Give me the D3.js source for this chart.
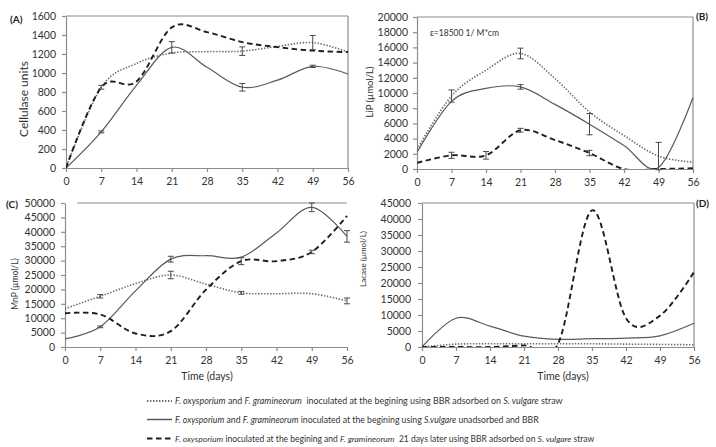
<!DOCTYPE html>
<html><head><meta charset="utf-8">
<script src="https://cdn.jsdelivr.net/npm/d3@7"></script>
<style>body{margin:0;background:#fff}text{font-family:Lato,'Liberation Sans',sans-serif}</style>
</head><body><svg id="c" width="716" height="447"></svg>
<script>
// ---------- data ----------
const days = [0, 7, 14, 21, 28, 35, 42, 49, 56];

// (A) Cellulase units
const celluDotted = [0, 850, 1100, 1210, 1225, 1230, 1280, 1320, 1220];
const celluSolid  = [0, 380, 870, 1270, 1060, 850, 925, 1070, 990];
const celluDashed = [0, 850, 910, 1480, 1430, 1325, 1272, 1235, 1220];
const celluDottedErr = [null, 20, null, null, null, 45, null, 75, null];
const celluSolidErr  = [null, 10, null, 60, null, 40, null, 12, null];
const celluDashedErr = [null, null, null, null, null, null, null, null, null];
const celluTicks = [0, 200, 400, 600, 800, 1000, 1200, 1400, 1600];

// (B) LiP
const lipDotted = [2600, 9600, 13000, 15200, 11900, 7500, 4400, 1700, 900];
const lipSolid  = [2200, 8900, 10600, 10800, 8500, 5900, 3100, 200, 9400];
const lipDashed = [800, 1800, 1800, 5100, 3800, 2100, 0, 0, 100];
const lipDottedErr = [null, 800, null, 700, null, null, null, 1800, null];
const lipSolidErr  = [null, null, null, 300, null, 1400, null, null, null];
const lipDashedErr = [null, 400, 500, 250, null, 350, null, null, null];
const lipTicks = [0, 2000, 4000, 6000, 8000, 10000, 12000, 14000, 16000, 18000, 20000];

// (C) MnP
const mnpDotted = [13300, 17600, 22000, 25000, 21800, 18800, 18500, 18500, 16000];
const mnpSolid  = [2800, 7000, 19500, 30500, 31700, 31200, 39600, 48500, 38400];
const mnpDashed = [11700, 11300, 4700, 5500, 19900, 29800, 29800, 33000, 45500];
const mnpDottedErr = [null, 600, null, 1300, null, 500, null, null, 1000];
const mnpSolidErr  = [null, 300, null, 1000, null, null, null, 1500, 2000];
const mnpDashedErr = [null, null, null, null, null, 1200, null, 600, null];
const mnpTicks = [0, 5000, 10000, 15000, 20000, 25000, 30000, 35000, 40000, 45000, 50000];

// (D) Lacase
const lacDotted = [0, 900, 1000, 1000, 1000, 1000, 900, 800, 700];
const lacSolid  = [0, 9000, 6500, 3400, 2400, 2600, 2800, 3500, 7400];
const lacDashed = [0, 0, 0, 500, 1000, 42700, 9000, 9800, 23400];
const lacTicks = [0, 5000, 10000, 15000, 20000, 25000, 30000, 35000, 40000, 45000];

const xTicks = [0, 7, 14, 21, 28, 35, 42, 49, 56];

const legendItems = [
  [["F. oxysporium", true], [" and ", false], ["F. gramineorum", true], ["  inoculated at the begining using BBR adsorbed on ", false], ["S. vulgare", true], [" straw", false]],
  [["F. oxysporium", true], [" and ", false], ["F. gramineorum", true], [" inoculated at the begining using ", false], ["S.vulgare", true], [" unadsorbed and BBR", false]],
  [["F. oxysporium", true], [" inoculated at the begining and ", false], ["F. gramineorum", true], ["  21 days later using BBR adsorbed on ", false], ["S. vulgare", true], [" straw", false]]
];

// ---------- styles ----------
const styles = {
  dotted: {stroke: "#6a6a6a", width: 1.6, dash: "1.4,1.6"},
  solid:  {stroke: "#5a5a5a", width: 1.2, dash: null},
  dashed: {stroke: "#1e1e1e", width: 1.9, dash: "5.5,3.5"}
};
const axisColor = "#8c8c8c";
const svg = d3.select("#c");
const curve = d3.curveCardinal.tension(0);

function panel(cfg, idx) {
  const x = d3.scaleLinear().domain([0, 56]).range(cfg.xr);
  const y = d3.scaleLinear().domain([0, cfg.ymax]).range(cfg.yr);
  const g = svg.append("g");
  const clipId = "clip" + idx;
  svg.append("clipPath").attr("id", clipId).append("rect")
    .attr("x", cfg.xr[0]).attr("y", cfg.yr[1] - 2)
    .attr("width", cfg.xr[1] - cfg.xr[0] + 1).attr("height", cfg.yr[0] - cfg.yr[1] + 2);

  g.append("line").attr("x1", cfg.topStart || cfg.xr[0]).attr("x2", cfg.xr[1])
    .attr("y1", cfg.yr[1]).attr("y2", cfg.yr[1]).attr("stroke", axisColor).attr("stroke-width", 1.2);
  if (cfg.right) g.append("line").attr("x1", cfg.xr[1]).attr("x2", cfg.xr[1])
    .attr("y1", cfg.yr[1]).attr("y2", cfg.yr[0]).attr("stroke", axisColor).attr("stroke-width", 1.2);

  const ya = g.append("g").attr("transform", `translate(${cfg.xr[0]},0)`)
    .call(d3.axisLeft(y).tickValues(cfg.yticks).tickSize(4).tickSizeOuter(0).tickPadding(cfg.ypad).tickFormat(d3.format("d")));
  const xa = g.append("g").attr("transform", `translate(0,${cfg.yr[0]})`)
    .call(d3.axisBottom(x).tickValues(xTicks).tickSize(4).tickSizeOuter(0).tickPadding(6).tickFormat(d3.format("d")));
  [ya, xa].forEach(a => {
    a.selectAll("path,line").attr("stroke", axisColor).attr("stroke-width", 1.2);
    a.selectAll("text").attr("font-size", 10.5).attr("fill", "#333");
  });

  const plot = g.append("g").attr("clip-path", `url(#${clipId})`);
  cfg.series.forEach(s => {
    const st = styles[s.style];
    const line = d3.line().x((d, i) => x(days[i])).y(d => y(d)).curve(curve);
    plot.append("path").attr("d", line(s.values)).attr("fill", "none")
      .attr("stroke", st.stroke).attr("stroke-width", st.width)
      .attr("stroke-dasharray", st.dash);
    if (s.err) s.err.forEach((e, i) => {
      if (e == null) return;
      const cx = x(days[i]), v = s.values[i];
      const eg = g.append("g").attr("stroke", "#4a4a4a").attr("stroke-width", 1);
      eg.append("line").attr("x1", cx).attr("x2", cx).attr("y1", y(v - e)).attr("y2", y(v + e));
      eg.append("line").attr("x1", cx - 3).attr("x2", cx + 3).attr("y1", y(v - e)).attr("y2", y(v - e));
      eg.append("line").attr("x1", cx - 3).attr("x2", cx + 3).attr("y1", y(v + e)).attr("y2", y(v + e));
    });
  });

  g.append("text").attr("transform", `translate(${cfg.ylab[1]},${cfg.ylab[2]}) rotate(-90)`)
    .attr("text-anchor", "middle").attr("font-size", cfg.ylab[3]).attr("fill", "#333").text(cfg.ylab[0]);
  g.append("text").attr("x", cfg.plab[1]).attr("y", cfg.plab[2]).attr("font-family", "'Liberation Serif',serif")
    .attr("font-weight", "bold").attr("font-size", 10).attr("fill", "#222").text(cfg.plab[0]);
  if (cfg.xlab) g.append("text").attr("x", cfg.xlab[1]).attr("y", cfg.xlab[2]).attr("text-anchor", "middle")
    .attr("font-size", 10.5).attr("fill", "#333").text(cfg.xlab[0]);
  return {x, y, g};
}

panel({xr: [66, 348], yr: [168, 16], ymax: 1600, yticks: celluTicks, ypad: 6, right: true,
  series: [
    {values: celluDotted, style: "dotted", err: celluDottedErr},
    {values: celluSolid, style: "solid", err: celluSolidErr},
    {values: celluDashed, style: "dashed", err: celluDashedErr}],
  ylab: ["Cellulase units", 28, 99, 12], plab: ["(A)", 10, 23]}, 0);

const pb = panel({xr: [417, 693], yr: [169, 17], ymax: 20000, yticks: lipTicks, ypad: 5, right: true,
  series: [
    {values: lipDotted, style: "dotted", err: lipDottedErr},
    {values: lipSolid, style: "solid", err: lipSolidErr},
    {values: lipDashed, style: "dashed", err: lipDashedErr}],
  ylab: ["LiP (µmol/L)", 373, 92, 9.5], plab: ["(B)", 696, 20]}, 1);
pb.g.append("text").attr("x", 430).attr("y", 36).attr("font-size", 8.5).attr("fill", "#333").text("ε=18500  1/ M*cm");

panel({xr: [65, 347], yr: [347, 203], ymax: 50000, yticks: mnpTicks, ypad: 6, right: false, topStart: 77,
  series: [
    {values: mnpDotted, style: "dotted", err: mnpDottedErr},
    {values: mnpSolid, style: "solid", err: mnpSolidErr},
    {values: mnpDashed, style: "dashed", err: mnpDashedErr}],
  ylab: ["MnP (µmol/L)", 18, 284, 8.5], plab: ["(C)", 6, 208], xlab: ["Time  (days)", 207, 380]}, 2);

panel({xr: [422, 694], yr: [347, 203], ymax: 45000, yticks: lacTicks, ypad: 7, right: true,
  series: [
    {values: lacDotted, style: "dotted"},
    {values: lacSolid, style: "solid"},
    {values: lacDashed, style: "dashed"}],
  ylab: ["Lacase (µmol/L)", 366, 259, 8], plab: ["(D)", 696, 207], xlab: ["Time (days)", 563, 380]}, 3);

// ---------- legend ----------
const legendStyles = ["dotted", "solid", "dashed"];
const legendY = [401, 419.5, 438.5];
const legendTarget = [388, 364, 420];
legendItems.forEach((parts, i) => {
  const st = styles[legendStyles[i]];
  svg.append("line").attr("x1", 147).attr("x2", 172).attr("y1", legendY[i]).attr("y2", legendY[i])
    .attr("stroke", st.stroke).attr("stroke-width", st.width + 0.3).attr("stroke-dasharray", st.dash);
  const t = svg.append("text").attr("x", 175).attr("y", legendY[i] + 3).attr("font-size", 9).attr("fill", "#333")
    .attr("xml:space", "preserve");
  parts.forEach(([s, it]) => t.append("tspan").attr("font-style", it ? "italic" : "normal").text(s));
  const w = t.node().getComputedTextLength();
  t.attr("font-size", 9 * legendTarget[i] / w);
});
</script></body></html>
